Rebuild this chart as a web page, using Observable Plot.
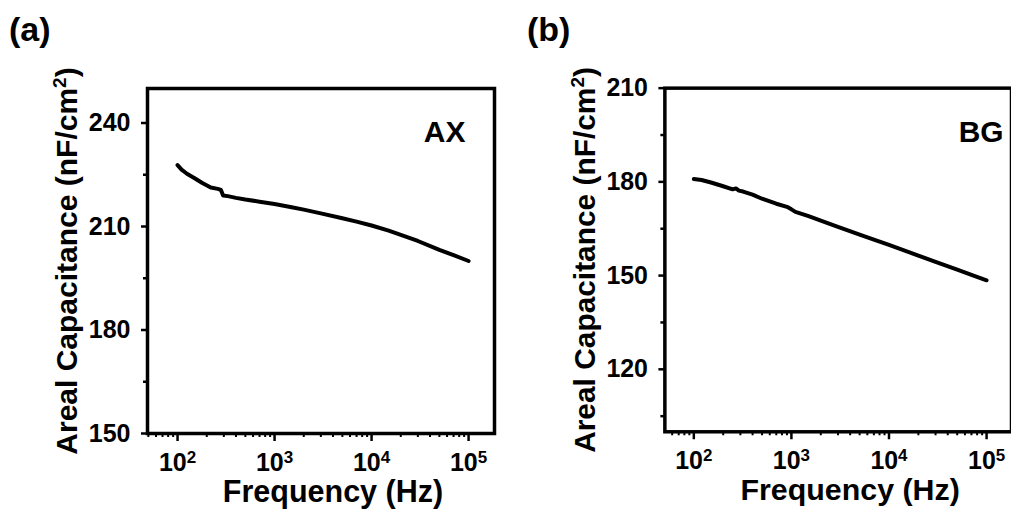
<!DOCTYPE html>
<html><head><meta charset="utf-8">
<script src="https://cdn.jsdelivr.net/npm/d3@7"></script>
<script src="https://cdn.jsdelivr.net/npm/@observablehq/plot@0.6"></script>
<style>
html,body{margin:0;padding:0;background:#fff;overflow:hidden;width:1011px;height:517px}
.panel{position:absolute;top:0}
.lbl{position:absolute;font:bold 34px Arial,"Liberation Sans",sans-serif;color:#000;line-height:34px}
</style></head><body>
<div id="a" class="panel" style="left:0"></div>
<div id="b" class="panel" style="left:505px"></div>
<div class="lbl" style="left:9px;top:12px">(a)</div>
<div class="lbl" style="left:527px;top:12px">(b)</div>
<script>
// Panel (a): AX
const freqAX = [100, 110, 125, 150, 180, 220, 260, 280, 295, 330, 400, 500, 700, 1000, 1500, 2000, 3000, 5000, 7000, 10000, 15000, 20000, 30000, 50000, 70000, 100000];
const capAX  = [227.8, 226.5, 225.3, 224.0, 222.6, 221.3, 220.9, 220.6, 219.0, 218.8, 218.3, 217.8, 217.2, 216.5, 215.6, 214.9, 213.8, 212.4, 211.4, 210.3, 208.8, 207.6, 205.8, 203.2, 201.7, 200.0];
// Panel (b): BG
const freqBG = [100, 120, 150, 200, 250, 270, 290, 320, 400, 500, 700, 900, 1000, 1100, 1500, 2000, 3000, 5000, 7000, 10000, 20000, 30000, 50000, 70000, 100000];
const capBG  = [180.9, 180.6, 179.8, 178.6, 177.6, 177.9, 177.2, 176.9, 175.9, 174.6, 173.0, 172.0, 171.2, 170.4, 169.0, 167.6, 165.6, 163.1, 161.5, 159.8, 156.4, 154.4, 151.9, 150.2, 148.5];

const yTicksAX = [150, 180, 210, 240];
const yMinorAX = [165, 195, 225];
const yTicksBG = [120, 150, 180, 210];
const yMinorBG = [105, 135, 165, 195];
const xMajor = [1e2, 1e3, 1e4, 1e5];
const yTitle = "Areal Capacitance (nF/cm";

const font = 'Arial, "Liberation Sans", sans-serif';

function panel(o) {
  const data = o.freq.map((f, i) => ({f, c: o.cap[i]}));
  const xMinor = [];
  for (let e = 1; e <= 5; e++) for (let m = 2; m <= 9; m++) {
    const v = m * 10 ** e;
    if (v >= o.xDomain[0] && v <= o.xDomain[1]) xMinor.push(v);
  }
  const fh = 517 - 88 - 84;
  const fw = o.width - o.marginLeft - o.marginRight;
  const p = Plot.plot({
    width: o.width, height: 517,
    marginLeft: o.marginLeft, marginRight: o.marginRight, marginTop: 88, marginBottom: 84,
    style: {fontFamily: font, fontSize: "25px", fontWeight: "bold", color: "#000", background: "transparent", overflow: "visible"},
    x: {type: "log", domain: o.xDomain},
    y: {domain: o.yDomain},
    marks: [
      Plot.tickX(xMinor, {x: d => d, insetTop: fh, insetBottom: -4, stroke: "#000", strokeWidth: 2}),
      Plot.tickY(o.yMinor, {y: d => d, insetRight: fw, insetLeft: -4, stroke: "#000", strokeWidth: 2.5}),
      Plot.axisX(xMajor, {tickSize: 8, strokeWidth: 2.5, tickPadding: 12, tickFormat: d => "10" + Math.round(Math.log10(d)), label: null}),
      Plot.axisY(o.yTicks, {tickSize: 6, strokeWidth: 2.5, tickPadding: 11, label: null}),
      Plot.line(data, {x: "f", y: "c", stroke: "#000", strokeWidth: 4, strokeLinejoin: "round", strokeLinecap: "round"}),
      Plot.frame({stroke: "#000", strokeWidth: 3.5}),
      Plot.text([o.name], {text: d => d, frameAnchor: "top-right", dx: o.nameDx, dy: 44, fontSize: 30, textAnchor: "end", lineAnchor: "middle"}),
      Plot.text([yTitle], {text: d => d, frameAnchor: "left", dx: -80, rotate: -90, fontSize: 30, lineAnchor: "middle", textAnchor: "middle"}),
      Plot.text(["Frequency (Hz)"], {text: d => d, frameAnchor: "bottom", dx: 12, dy: 59, fontSize: 30.5, lineAnchor: "middle"})
    ]
  });
  const s = d3.select(p);
  s.selectAll('g[aria-label="x-axis tick label"] text').each(function () {
    const t = this.textContent;
    const exp = t.slice(2);
    this.textContent = "10";
    d3.select(this).append("tspan").attr("dy", "-8").attr("font-size", "17px").text(exp);
  });
  s.selectAll("text").filter(function () { return this.textContent === yTitle; }).each(function () {
    const sel = d3.select(this);
    sel.append("tspan").attr("dy", "-11").attr("font-size", "19px").text("2");
    sel.append("tspan").attr("dy", "11").text(")");
  });
  return p;
}

document.getElementById("a").appendChild(panel({
  freq: freqAX, cap: capAX, name: "AX", nameDx: -29,
  xDomain: [49, 185000], yDomain: [150, 250], yTicks: yTicksAX, yMinor: yMinorAX,
  width: 505, marginLeft: 147, marginRight: 11
}));
document.getElementById("b").appendChild(panel({
  freq: freqBG, cap: capBG, name: "BG", nameDx: -8,
  xDomain: [50.5, 180000], yDomain: [100, 210], yTicks: yTicksBG, yMinor: yMinorBG,
  width: 508, marginLeft: 160, marginRight: 0
}));
</script>
</body></html>
